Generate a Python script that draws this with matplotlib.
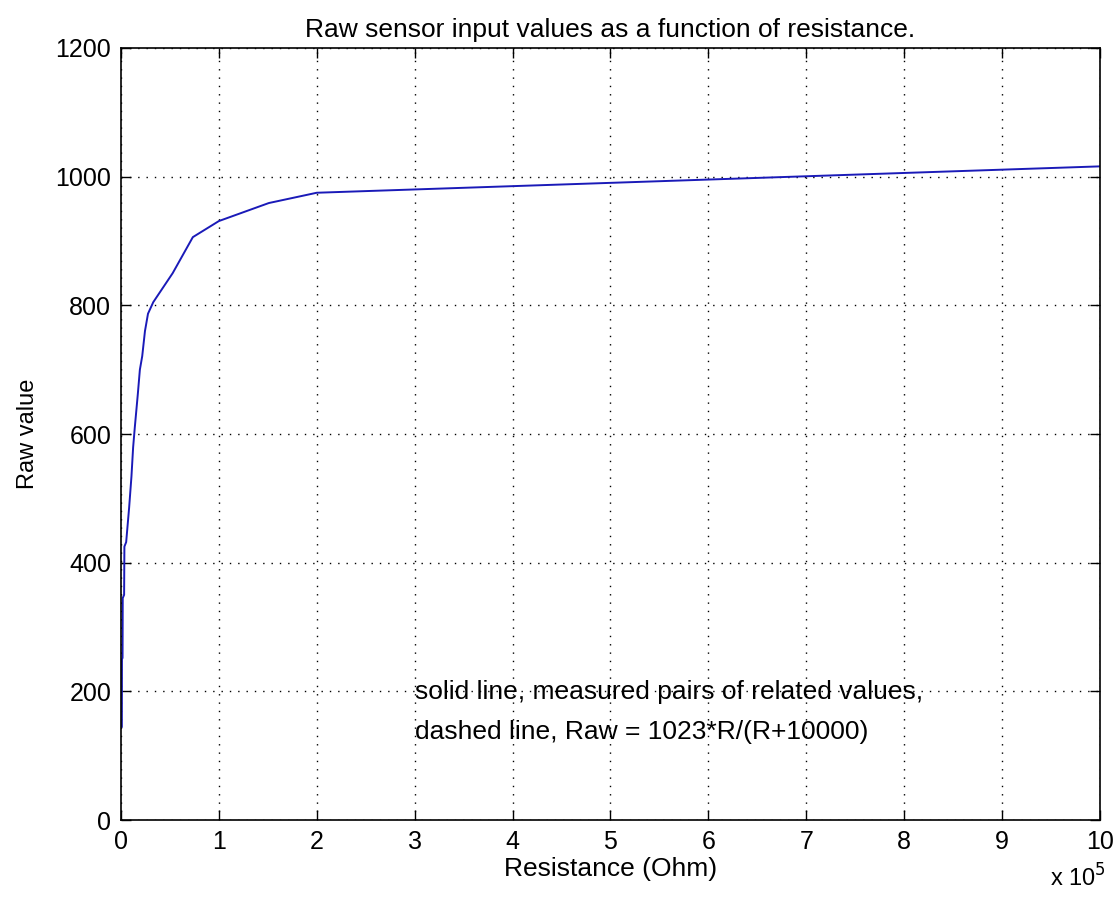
import matplotlib
matplotlib.use("Agg")
import matplotlib.pyplot as plt

# Measured pairs (resistance in ohm, raw value)
resistance = [900, 1000, 1600, 1800, 3200, 3500, 5300, 8300, 10700, 12400,
              14100, 17200, 19300, 21700, 24500, 27600, 33000, 52800, 73400,
              100000, 151000, 200000, 1000000]
raw_value = [145, 250, 252, 345, 350, 425, 432, 485, 534, 579,
             610, 662, 700, 721, 760, 787, 805, 850, 906,
             931, 959, 975, 1016]

title = "Raw sensor input values as a function of resistance."
xlabel = "Resistance (Ohm)"
ylabel = "Raw value"
note_lines = ["solid line, measured pairs of related values,",
              "dashed line, Raw = 1023*R/(R+10000)"]
x_ticks = list(range(0, 11))
y_ticks = [0, 200, 400, 600, 800, 1000, 1200]

plt.rcParams['font.family'] = ["Liberation Sans", "DejaVu Sans"]

fig = plt.figure(figsize=(11.15, 8.97), dpi=100)
ax = fig.add_axes([0.1085, 0.0858, 0.878, 0.8607])

ax.plot(resistance, raw_value, color="#1a1ab8", linewidth=1.4)

ax.set_xlim(0, 1e6)
ax.set_ylim(0, 1200)
ax.set_xticks([t * 1e5 for t in x_ticks])
ax.set_xticklabels([str(t) for t in x_ticks])
ax.set_yticks(y_ticks)
ax.set_yticklabels([str(t) for t in y_ticks])

ax.tick_params(direction="in", top=True, right=True, length=7, width=1,
               labelsize=18, pad=7)
for s in ax.spines.values():
    s.set_linewidth(1.2)
ax.grid(True, linestyle=(0, (1, 5)), color="black", linewidth=1.0)

ax.set_title(title, fontsize=19, pad=8)
ax.set_xlabel(xlabel, fontsize=19, labelpad=2)
ax.set_ylabel(ylabel, fontsize=17, labelpad=12)

ax.text(3e5, 199, note_lines[0], fontsize=19, va="center", ha="left")
ax.text(3e5, 137, note_lines[1], fontsize=19, va="center", ha="left")

fig.text(0.992, 0.006, r"x 10$^{5}$", fontsize=17, ha="right", va="bottom")

fig.savefig("out.png", dpi=100, facecolor="white")
